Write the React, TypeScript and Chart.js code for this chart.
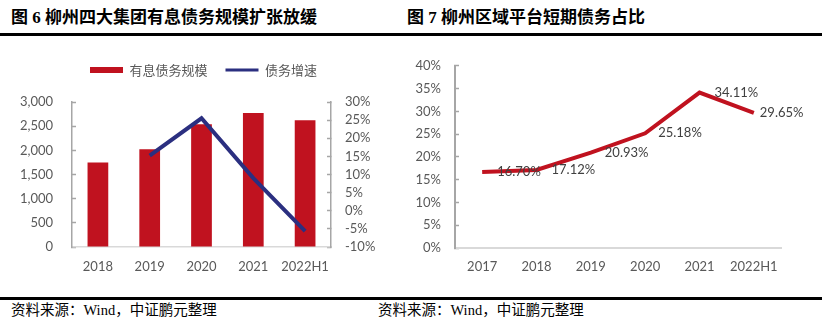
import React, { useEffect, useRef } from "react";
import { Chart, registerables } from "chart.js";

Chart.register(...registerables);

// ---------- data ----------
const leftCategories = ["2018", "2019", "2020", "2021", "2022H1"];
const debtScale = [1750, 2025, 2540, 2770, 2620];
const debtGrowth: (number | null)[] = [null, 15.2, 25.5, 9.0, -5.6];
const leftSeriesNames = ["有息债务规模", "债务增速"];

const rightCategories = ["2017", "2018", "2019", "2020", "2021", "2022H1"];
const shortRatio = [16.7, 17.12, 20.93, 25.18, 34.11, 29.65];

const leftTitle = "图 6 柳州四大集团有息债务规模扩张放缓";
const rightTitle = "图 7 柳州区域平台短期债务占比";
const sourceText = "资料来源：Wind，中证鹏元整理";

// ---------- style ----------
const RED = "#C0121F";
const NAVY = "#2B2F80";
const TICK_COLOR = "#595959";
const AXIS_COLOR = "#A6A6A6";
const XAXIS_COLOR = "#D9D9D9";
const TICK_FONT = { family: "Lato", size: 13 };
const labelOffsets = [15, 15, 14, 13, 15, 6];

const legendSpacer = {
  id: "legendSpacer",
  beforeInit(chart: any) {
    const legend = chart.legend;
    if (!legend) return;
    const orig = legend.fit;
    legend.fit = function () {
      orig.call(this);
      this.height += 15.5;
    };
  },
};

const pointLabels = {
  id: "pointLabels",
  afterDatasetsDraw(chart: any) {
    const ctx = chart.ctx;
    const meta = chart.getDatasetMeta(0);
    ctx.save();
    ctx.font = "13px Lato";
    ctx.fillStyle = "#404040";
    ctx.textAlign = "left";
    ctx.textBaseline = "middle";
    meta.data.forEach((pt: any, i: number) => {
      const v = shortRatio[i];
      ctx.fillText(v.toFixed(2) + "%", pt.x + labelOffsets[i], pt.y);
    });
    ctx.restore();
  },
};

export default function App() {
  const leftRef = useRef<HTMLCanvasElement | null>(null);
  const rightRef = useRef<HTMLCanvasElement | null>(null);

  useEffect(() => {
    Chart.defaults.font.family = "Lato";
    const left = new Chart(leftRef.current as HTMLCanvasElement, {
      type: "bar",
      data: {
        labels: leftCategories,
        datasets: [
          {
            type: "bar",
            label: leftSeriesNames[0],
            data: debtScale,
            backgroundColor: RED,
            borderWidth: 0,
            yAxisID: "y",
            order: 1,
            categoryPercentage: 1,
            barPercentage: 0.4,
          } as any,
          {
            type: "line",
            label: leftSeriesNames[1],
            data: debtGrowth,
            borderColor: NAVY,
            backgroundColor: NAVY,
            borderWidth: 4,
            pointRadius: 0,
            tension: 0,
            yAxisID: "y1",
            order: 0,
          } as any,
        ],
      },
      options: {
        animation: false,
        responsive: false,
        maintainAspectRatio: false,
        layout: { padding: { top: 5.5, left: 7, right: 0, bottom: 0 } },
        plugins: {
          tooltip: { enabled: false },
          legend: {
            position: "top",
            labels: {
              usePointStyle: true,
              pointStyleWidth: 33,
              boxHeight: 6,
              padding: 18,
              color: TICK_COLOR,
              font: { family: "Noto Sans CJK SC", size: 13 },
              generateLabels: (chart: any) => {
                const items = Chart.defaults.plugins.legend.labels.generateLabels(chart);
                items.sort((a: any, b: any) => a.datasetIndex - b.datasetIndex);
                items.forEach((it: any) => {
                  if (it.datasetIndex === 0) {
                    it.pointStyle = "rect";
                    it.fillStyle = RED;
                    it.strokeStyle = RED;
                    it.lineWidth = 0;
                  } else {
                    it.pointStyle = "line";
                    it.strokeStyle = NAVY;
                    it.lineWidth = 3;
                  }
                });
                return items;
              },
            },
          },
        },
        scales: {
          x: {
            grid: { display: false, drawTicks: false },
            border: { color: XAXIS_COLOR, width: 1.5 },
            ticks: { color: TICK_COLOR, font: TICK_FONT, padding: 12, maxRotation: 0, autoSkip: false },
            afterFit: (s: any) => {
              s.height = 43;
            },
          },
          y: {
            position: "left",
            min: 0,
            max: 3000,
            grid: { drawOnChartArea: false, drawTicks: true, tickLength: -4, color: AXIS_COLOR, tickWidth: 1.5 },
            border: { color: AXIS_COLOR, width: 1.5 },
            ticks: {
              stepSize: 500,
              autoSkip: false,
              color: TICK_COLOR,
              font: TICK_FONT,
              padding: 23,
              callback: (v: any) => Number(v).toLocaleString("en-US"),
            },
            afterFit: (s: any) => {
              s.width = 65;
            },
          },
          y1: {
            position: "right",
            min: -10,
            max: 30,
            grid: { drawOnChartArea: false, drawTicks: true, tickLength: -4, color: AXIS_COLOR, tickWidth: 1.5 },
            border: { color: AXIS_COLOR, width: 1.5 },
            ticks: {
              stepSize: 5,
              autoSkip: false,
              color: TICK_COLOR,
              font: TICK_FONT,
              padding: 18,
              callback: (v: any) => v + "%",
            },
            afterFit: (s: any) => {
              s.width = 69;
            },
          },
        },
      } as any,
      plugins: [legendSpacer],
    });

    const right = new Chart(rightRef.current as HTMLCanvasElement, {
      type: "line",
      data: {
        labels: rightCategories,
        datasets: [
          {
            label: rightTitle,
            data: shortRatio,
            borderColor: RED,
            backgroundColor: RED,
            borderWidth: 4,
            pointRadius: 0,
            tension: 0,
          },
        ],
      },
      options: {
        animation: false,
        responsive: false,
        maintainAspectRatio: false,
        layout: { padding: { top: 25, left: 0, right: 41, bottom: 0 } },
        plugins: { legend: { display: false }, tooltip: { enabled: false } },
        scales: {
          x: {
            offset: true,
            grid: { display: false, drawTicks: false, offset: true },
            border: { color: XAXIS_COLOR, width: 2 },
            ticks: { color: TICK_COLOR, font: TICK_FONT, padding: 11, maxRotation: 0, autoSkip: false },
            afterFit: (s: any) => {
              s.height = 42;
            },
          },
          y: {
            min: 0,
            max: 40,
            grid: { drawOnChartArea: false, drawTicks: true, tickLength: -4, color: AXIS_COLOR, tickWidth: 1.5 },
            border: { color: AXIS_COLOR, width: 2 },
            ticks: {
              stepSize: 5,
              autoSkip: false,
              color: TICK_COLOR,
              font: TICK_FONT,
              padding: 18,
              callback: (v: any) => v + "%",
            },
            afterFit: (s: any) => {
              s.width = 55;
            },
          },
        },
      } as any,
      plugins: [pointLabels],
    });

    return () => {
      left.destroy();
      right.destroy();
    };
  }, []);

  const titleStyle: React.CSSProperties = {
    position: "absolute",
    top: 7,
    fontFamily: '"Liberation Serif", "Noto Sans CJK SC", serif',
    fontWeight: 700,
    fontSize: 17,
    lineHeight: "21px",
    color: "#000",
    whiteSpace: "nowrap",
  };
  const sourceStyle: React.CSSProperties = {
    position: "absolute",
    top: 301,
    fontFamily: '"Liberation Serif", "Noto Sans CJK SC", serif',
    fontSize: 14.5,
    lineHeight: "18px",
    color: "#000",
    whiteSpace: "nowrap",
  };

  return (
    <div
      style={{
        position: "absolute",
        left: 0,
        top: 0,
        width: 822,
        height: 323,
        background: "#fff",
        overflow: "hidden",
      }}
    >
      <div style={{ ...titleStyle, left: 11 }}>{leftTitle}</div>
      <div style={{ ...titleStyle, left: 407 }}>{rightTitle}</div>
      <div style={{ position: "absolute", left: 0, top: 33, width: 822, height: 3, background: "#000" }} />
      <canvas
        ref={leftRef}
        width={400}
        height={250}
        style={{ position: "absolute", left: 0, top: 40, width: 400, height: 250 }}
      />
      <canvas
        ref={rightRef}
        width={422}
        height={250}
        style={{ position: "absolute", left: 400, top: 40, width: 422, height: 250 }}
      />
      <div style={{ position: "absolute", left: 0, top: 297, width: 822, height: 3, background: "#000" }} />
      <div style={{ ...sourceStyle, left: 11 }}>{sourceText}</div>
      <div style={{ ...sourceStyle, left: 378 }}>{sourceText}</div>
    </div>
  );
}
